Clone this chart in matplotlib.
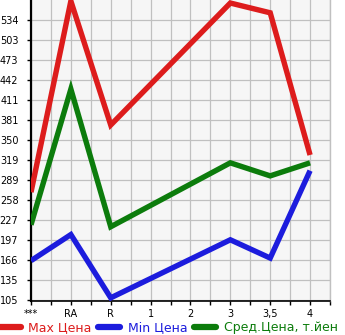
import numpy as np
import matplotlib
matplotlib.use("Agg")
import matplotlib.pyplot as plt
from matplotlib.lines import Line2D

# categories along the x axis
categories = ["***", "RA", "R", "1", "2", "3", "3,5", "4"]

# price series (None = no data for that category)
max_price = [270, 563, 373, None, None, 560, 545, 327]
min_price = [165, 205, 108, None, None, 197, 169, 303]
avg_price = [220, 428, 217, None, None, 315, 295, 315]

# y tick labels as shown on the chart
ytick_labels = ["105", "135", "166", "197", "227", "258", "289", "319",
                "350", "381", "411", "442", "473", "503", "534"]

colours = {"max": "#dd1c1c", "min": "#1c1cdd", "avg": "#0c7c0c"}

fig = plt.figure(figsize=(3.45, 3.35), dpi=100)
ax = fig.add_axes([31 / 345, 34 / 335, 299 / 345, 301 / 335])
ax.set_facecolor("#f6f6f6")

step = (534 - 105) / 14.0
yticks = [105 + k * step for k in range(15)]

def draw(series, colour, label):
    xs = [i for i, v in enumerate(series) if v is not None]
    ys = [v for v in series if v is not None]
    ax.plot(xs, ys, color=colour, lw=3.9, solid_capstyle="butt",
            solid_joinstyle="miter", label=label, zorder=3)

draw(max_price, colours["max"], "Max Цена")
draw(min_price, colours["min"], "Min Цена")
draw(avg_price, colours["avg"], "Сред.Цена, т.йен")

ax.set_xlim(0, 7.5)
ax.set_ylim(105 - step / 20 * 1.2, 534 + step)

ax.set_xticks(np.arange(0, 8, 1))
ax.set_xticklabels(categories, fontsize=7)
ax.set_xticks(np.arange(0.5, 8, 1), minor=True)
ax.set_yticks(yticks)
ax.set_yticklabels(ytick_labels, fontsize=7)
ax.tick_params(axis="both", which="both", length=3, width=1, color="black")
ax.tick_params(axis="y", which="major", pad=6)
ax.tick_params(axis="x", which="major", pad=3)

ax.grid(True, which="both", color="#c0c0c0", lw=0.9, zorder=0)
ax.set_axisbelow(True)

ax.spines["top"].set_visible(False)
ax.spines["right"].set_color("#c0c0c0")
ax.spines["right"].set_linewidth(1)
ax.spines["left"].set_linewidth(1.6)
ax.spines["bottom"].set_linewidth(1.2)

handles = [Line2D([], [], color=colours[k], lw=4.5, solid_capstyle="round")
           for k in ("max", "min", "avg")]
labels = ["Max Цена", "Min Цена", "Сред.Цена, т.йен"]
leg = fig.legend(handles, labels, loc="center left", bbox_to_anchor=(-0.005, 7 / 335),
                 ncol=3, frameon=False, fontsize=9.0, handlelength=1.8,
                 handletextpad=0.6, columnspacing=0.5, borderpad=0, borderaxespad=0)
for text, k in zip(leg.get_texts(), ("max", "min", "avg")):
    text.set_color(colours[k])

fig.savefig("out.png", dpi=100)
